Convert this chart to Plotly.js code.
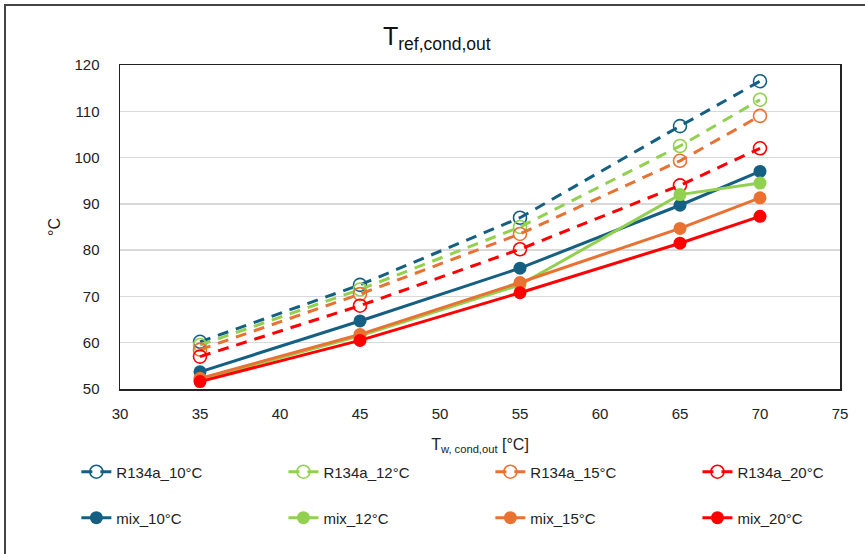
<!DOCTYPE html>
<html>
<head>
<meta charset="utf-8">
<script src="https://cdn.plot.ly/plotly-3.0.1.min.js"></script>
<style>
  html, body { margin: 0; padding: 0; background: #fff; }
  #frame { position: absolute; left: 4px; top: 4px; width: 880px; height: 580px; border: 2px solid #444; box-sizing: border-box; pointer-events: none; }
  #chart { position: absolute; left: 0; top: 0; width: 865px; height: 554px; }
</style>
</head>
<body>
<div id="chart"></div>
<div id="frame"></div>
<script>
// Data
const xTemps = [35, 45, 55, 65, 70];

const r134a_10 = [60.2, 72.5, 87.0, 106.8, 116.5];
const r134a_12 = [59.5, 71.5, 85.0, 102.5, 112.5];
const r134a_15 = [58.5, 70.5, 83.5, 99.3, 109.0];
const r134a_20 = [57.0, 68.0, 80.2, 94.0, 102.0];

const mix_10 = [53.7, 64.7, 76.1, 89.7, 97.0];
const mix_12 = [52.0, 61.5, 72.5, 92.0, 94.5];
const mix_15 = [52.3, 61.8, 73.0, 84.7, 91.3];
const mix_20 = [51.6, 60.5, 70.8, 81.5, 87.3];

const seriesNames = ['R134a_10°C', 'R134a_12°C', 'R134a_15°C', 'R134a_20°C',
                     'mix_10°C', 'mix_12°C', 'mix_15°C', 'mix_20°C'];

const cBlue = '#156082', cGreen = '#92D050', cOrange = '#E97132', cRed = '#FF0000';

function dashed(y, name, color, leg) {
  return {
    x: xTemps, y: y, name: name, type: 'scatter', mode: 'lines+markers',
    line: { color: color, width: 3, dash: '11px,8px' },
    marker: { symbol: 'circle-open', size: 13, color: color, line: { width: 1.6, color: color } },
    legend: leg
  };
}
function solid(y, name, color, leg) {
  return {
    x: xTemps, y: y, name: name, type: 'scatter', mode: 'lines+markers',
    line: { color: color, width: 3 },
    marker: { symbol: 'circle', size: 13, color: color },
    legend: leg
  };
}

const traces = [
  dashed(r134a_10, seriesNames[0], cBlue, 'legend'),
  dashed(r134a_12, seriesNames[1], cGreen, 'legend2'),
  dashed(r134a_15, seriesNames[2], cOrange, 'legend3'),
  dashed(r134a_20, seriesNames[3], cRed, 'legend4'),
  solid(mix_10, seriesNames[4], cBlue, 'legend5'),
  solid(mix_12, seriesNames[5], cGreen, 'legend6'),
  solid(mix_15, seriesNames[6], cOrange, 'legend7'),
  solid(mix_20, seriesNames[7], cRed, 'legend8')
];

const font = 'Liberation Sans, Arial, sans-serif';

function leg(x, y) {
  return {
    orientation: 'h', xref: 'paper', yref: 'paper', xanchor: 'left', yanchor: 'middle',
    x: x, y: y,
    font: { family: font, size: 15, color: '#222' }, bgcolor: 'rgba(0,0,0,0)'
  };
}
const colX = [-0.0606, 0.227, 0.5144, 0.802];
const rowY = [-0.256, -0.398];

const layout = {
  width: 865, height: 554,
  margin: { l: 120, r: 25, t: 65, b: 165 },
  paper_bgcolor: '#fff', plot_bgcolor: '#fff',
  font: { family: font, color: '#222' },
  title: { text: 'T<sub>ref,cond,out</sub>', x: 0.505, xanchor: 'center', y: 0.935, yanchor: 'middle',
           font: { family: font, size: 25, color: '#111' } },
  showlegend: true,
  xaxis: {
    range: [30, 75], dtick: 5, tick0: 30, showgrid: false, zeroline: false,
    showline: true, linecolor: '#222', linewidth: 1.5, mirror: true,
    ticks: '', ticklabelstandoff: 10,
    tickfont: { family: font, size: 15, color: '#222' },
    title: { text: 'T<sub>w, cond,out</sub> [°C]', font: { family: font, size: 16, color: '#222' }, standoff: 18 }
  },
  yaxis: {
    range: [50, 120], dtick: 10, tick0: 50, showgrid: true, gridcolor: '#d9d9d9', gridwidth: 1.3,
    zeroline: false, showline: true, linecolor: '#222', linewidth: 1.5, mirror: true,
    ticks: '', ticklabelstandoff: 16,
    tickfont: { family: font, size: 15, color: '#222' },
    title: { text: '°C', font: { family: font, size: 16, color: '#222' }, standoff: 10 }
  },
  legend: leg(colX[0], rowY[0]),
  legend2: leg(colX[1], rowY[0]),
  legend3: leg(colX[2], rowY[0]),
  legend4: leg(colX[3], rowY[0]),
  legend5: leg(colX[0], rowY[1]),
  legend6: leg(colX[1], rowY[1]),
  legend7: leg(colX[2], rowY[1]),
  legend8: leg(colX[3], rowY[1])
};

Plotly.newPlot('chart', traces, layout, { displayModeBar: false, staticPlot: true });
</script>
</body>
</html>
